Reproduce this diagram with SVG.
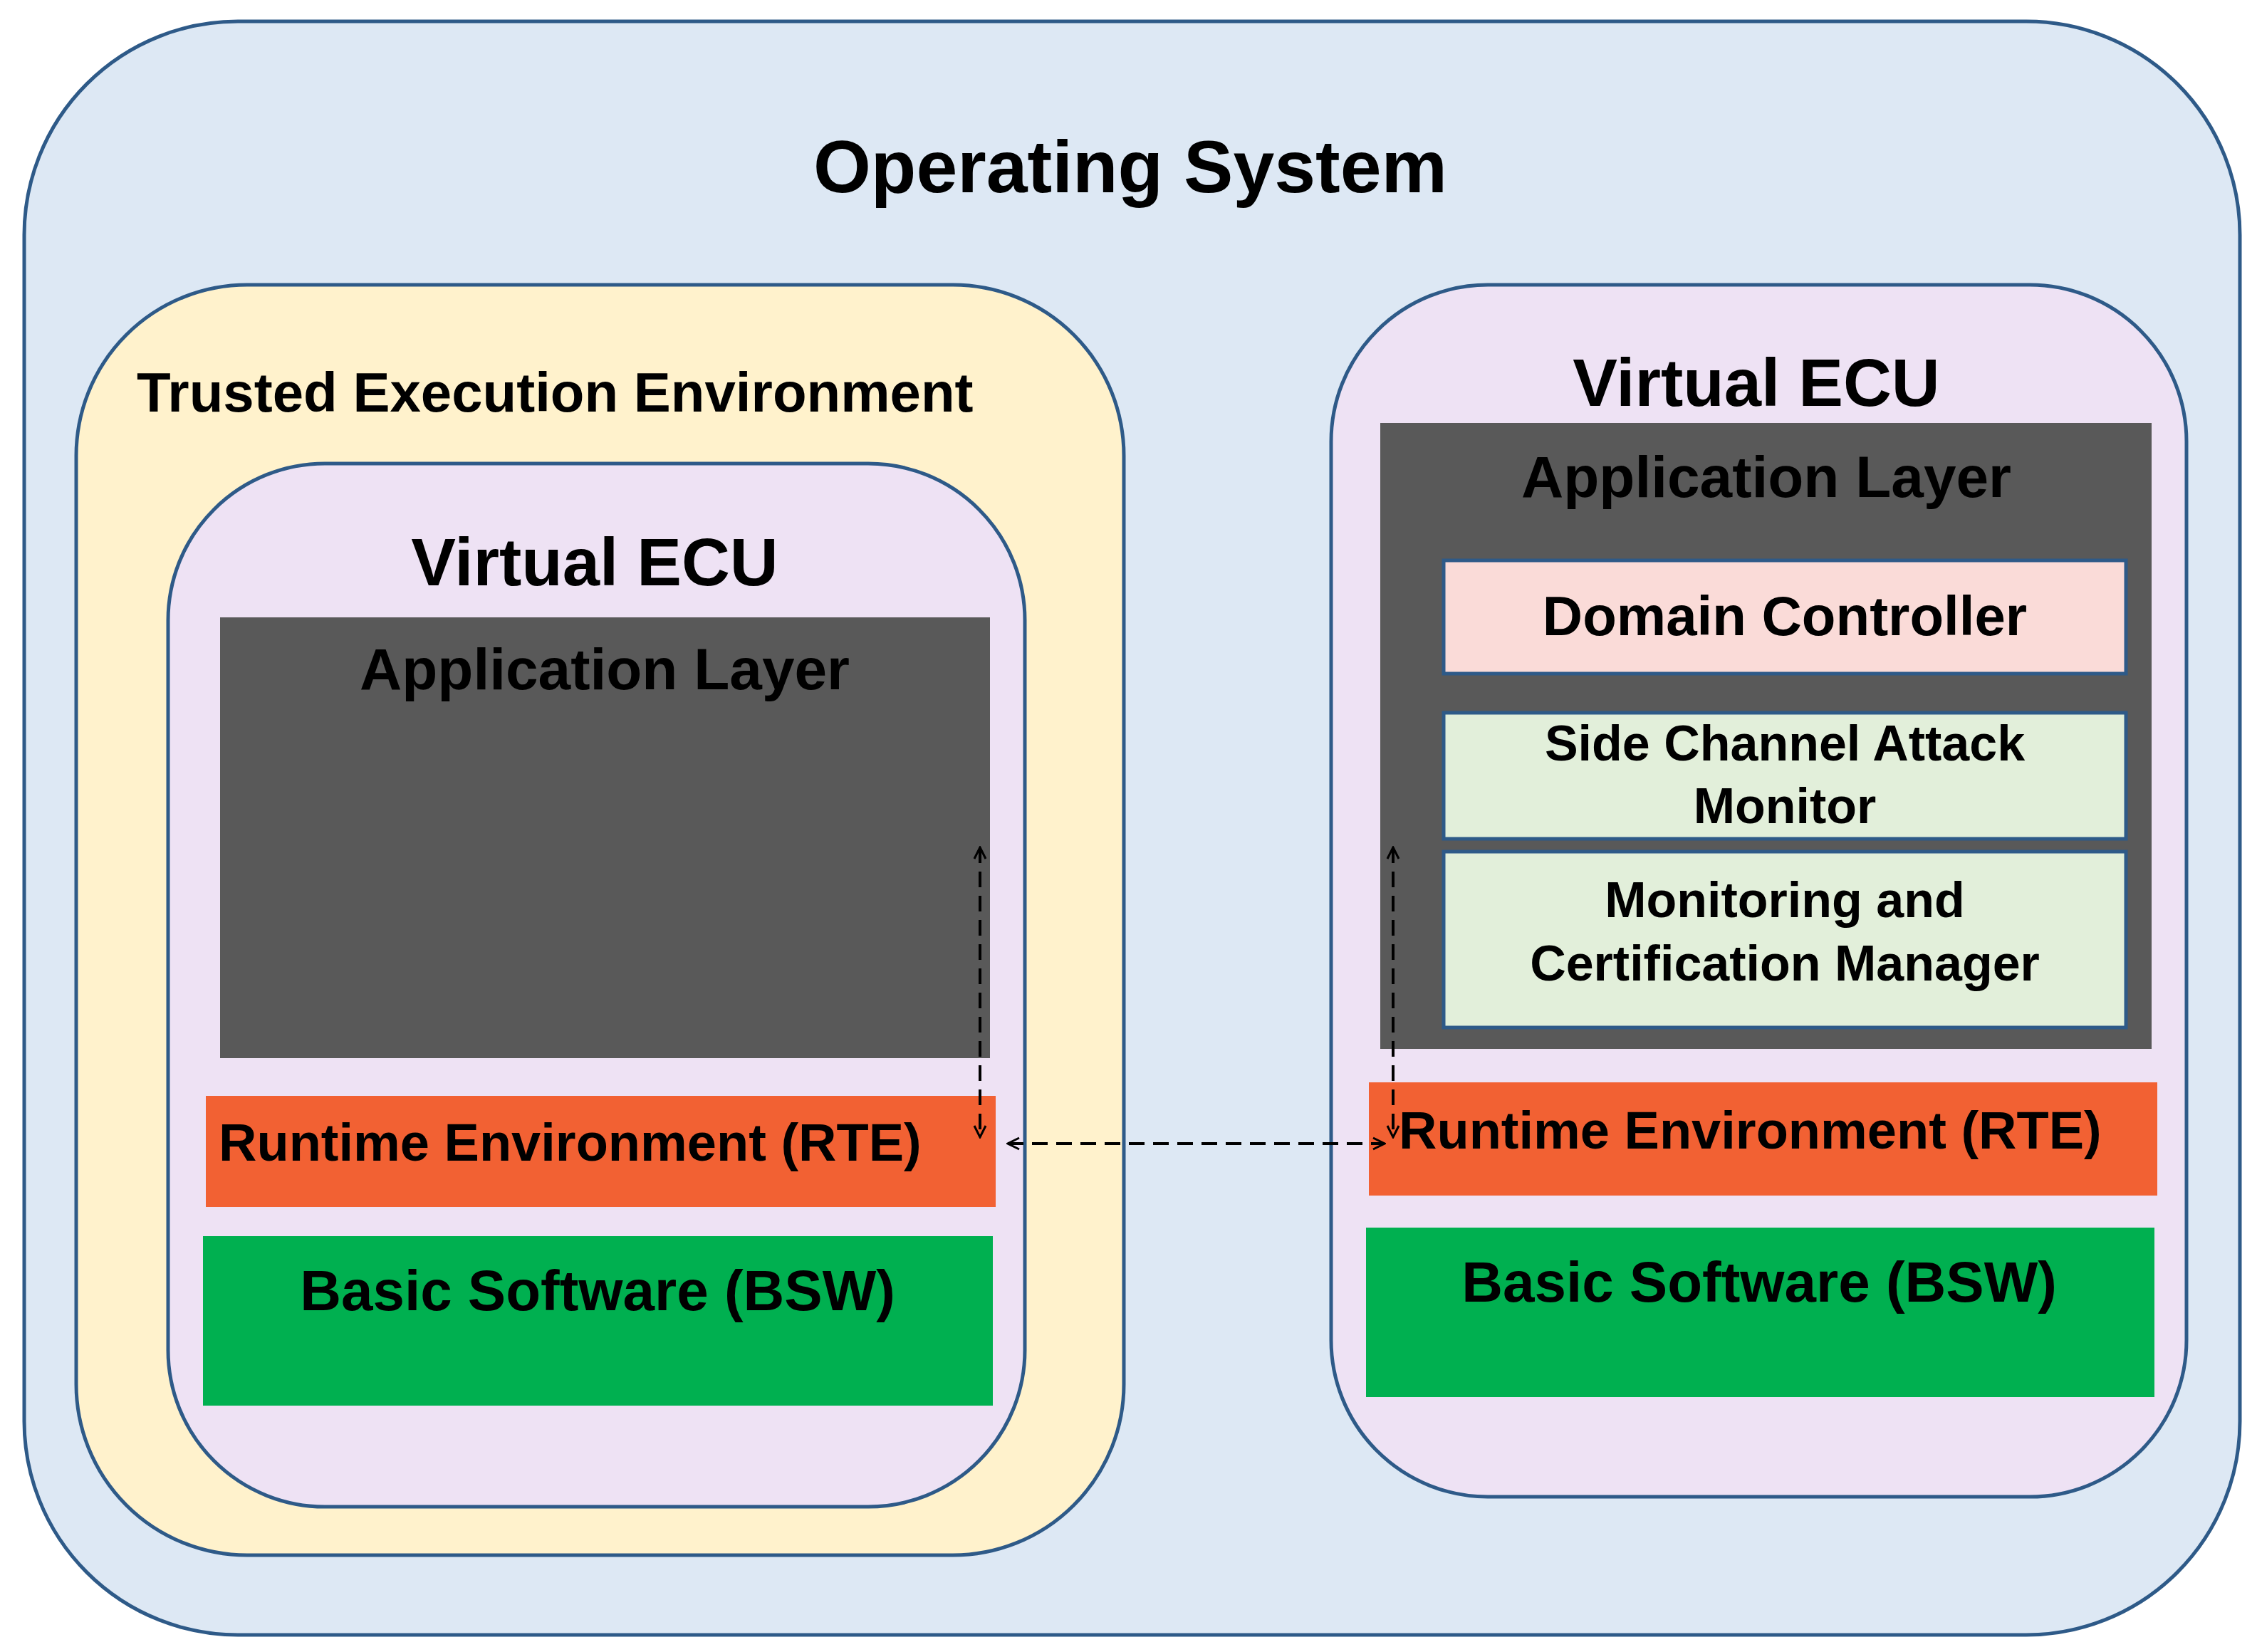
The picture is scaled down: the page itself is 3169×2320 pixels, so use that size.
<svg xmlns="http://www.w3.org/2000/svg" width="3169" height="2320" viewBox="0 0 3169 2320">
<style>
text{font-family:"Liberation Sans",Arial,sans-serif;font-weight:bold;fill:#000}
.c{text-anchor:middle}
.cont{stroke:#2e5a88;stroke-width:5}
.box{stroke:#2e5a88;stroke-width:5}
.dash{stroke:#000;stroke-width:4;stroke-dasharray:22 12;fill:none}
</style>
<defs>
<marker id="ah" viewBox="0 0 20 20" refX="18" refY="10" markerWidth="20" markerHeight="20" markerUnits="userSpaceOnUse" orient="auto-start-reverse">
<path d="M2,2 L18,10 L2,18" fill="none" stroke="#000" stroke-width="3"/>
</marker>
</defs>
<rect width="3169" height="2320" fill="#fff"/>
<g id="os"><rect class="cont" x="34" y="30" width="3111" height="2266" rx="300" fill="#dde8f4"/>
<text class="c" x="1587" y="270" font-size="104">Operating System</text></g>
<g id="tee"><rect class="cont" x="107" y="400" width="1471" height="1784" rx="240" fill="#fff2cc"/>
<text x="192" y="578" font-size="78">Trusted Execution Environment</text></g>
<g id="vecu-left"><rect class="cont" x="236" y="651" width="1203" height="1465" rx="220" fill="#eee2f4"/>
<text class="c" x="835" y="822" font-size="94" font-weight="normal" style="font-weight:bold">Virtual ECU</text></g>
<g id="app-left"><rect x="309" y="867" width="1081" height="619" fill="#595959"/>
<text class="c" x="849" y="968" font-size="82">Application Layer</text></g>
<g id="rte-left"><rect x="289" y="1539" width="1109" height="156" fill="#f26133"/>
<text x="307" y="1630" font-size="74">Runtime Environment (RTE)</text></g>
<g id="bsw-left"><rect x="285" y="1736" width="1109" height="238" fill="#00b050"/>
<text class="c" x="839" y="1840" font-size="80">Basic Software (BSW)</text></g>
<g id="vecu-right"><rect class="cont" x="1869" y="400" width="1201" height="1702" rx="220" fill="#eee2f4"/>
<text class="c" x="2466" y="570" font-size="94">Virtual ECU</text></g>
<g id="app-right"><rect x="1938" y="594" width="1083" height="879" fill="#595959"/>
<text class="c" x="2480" y="698" font-size="82">Application Layer</text></g>
<g id="domain"><rect class="box" x="2027" y="787" width="958" height="159" fill="#fadbd8"/>
<text class="c" x="2506" y="892" font-size="78">Domain Controller</text></g>
<g id="sca"><rect class="box" x="2027" y="1001" width="958" height="177" fill="#e2efda"/>
<text class="c" x="2506" y="1068" font-size="70">Side Channel Attack</text>
<text class="c" x="2506" y="1156" font-size="70">Monitor</text></g>
<g id="mcm"><rect class="box" x="2027" y="1196" width="958" height="247" fill="#e2efda"/>
<text class="c" x="2506" y="1288" font-size="70">Monitoring and</text>
<text class="c" x="2506" y="1377" font-size="70">Certification Manager</text></g>
<g id="rte-right"><rect x="1922" y="1520" width="1107" height="159" fill="#f26133"/>
<text x="1964" y="1613" font-size="74">Runtime Environment (RTE)</text></g>
<g id="bsw-right"><rect x="1918" y="1724" width="1107" height="238" fill="#00b050"/>
<text class="c" x="2470" y="1828" font-size="80">Basic Software (BSW)</text></g>
<g id="connectors">
<line class="dash" x1="1376" y1="1190" x2="1376" y2="1597" marker-start="url(#ah)" marker-end="url(#ah)"/>
<line class="dash" x1="1956" y1="1190" x2="1956" y2="1597" marker-start="url(#ah)" marker-end="url(#ah)"/>
<line class="dash" x1="1415" y1="1606" x2="1944" y2="1606" marker-start="url(#ah)" marker-end="url(#ah)"/>
</g>
</svg>
